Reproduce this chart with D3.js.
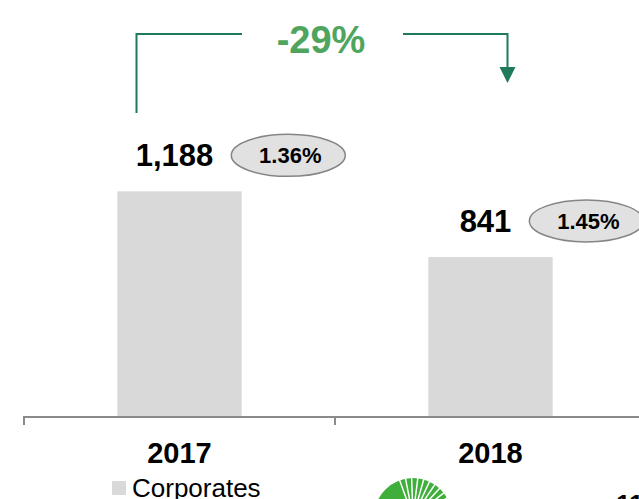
<!DOCTYPE html>
<html>
<head>
<meta charset="utf-8">
<script src="https://cdn.jsdelivr.net/npm/d3@7"></script>
<style>
	body { margin: 0; background: #fff; }
	svg { display: block; font-family: "Liberation Sans", Arial, sans-serif; }
</style>
</head>
<body>
<div id="chart"></div>
<script>
const years = ['2017', '2018'];
const values = [1188, 841];
const rates = ['1.36%', '1.45%'];
const changeLabel = '-29%';
const legendLabel = 'Corporates';

const width = 639;
const height = 499;
const baseY = 416;

const svg = d3.select('#chart')
	.append('svg')
	.attr('width', width)
	.attr('height', height);

const xScale = d3.scaleBand()
	.domain(years)
	.range([24, 646])
	.paddingInner(0.6)
	.paddingOuter(0.3);

const step = xScale.step();
const bandStart = (d) => xScale(d) - step * 0.3;
const center = (d) => xScale(d) + xScale.bandwidth() / 2;

const yScale = d3.scaleLinear()
	.domain([0, 2200])
	.range([baseY, 0]);

const fmt = d3.format(',');

// bars
svg.selectAll('.bar')
	.data(years)
	.join('rect')
	.attr('class', 'bar')
	.attr('x', (d) => xScale(d))
	.attr('y', (d, i) => yScale(values[i]))
	.attr('width', xScale.bandwidth())
	.attr('height', (d, i) => baseY - yScale(values[i]))
	.attr('fill', '#d9d9d9');

// axis line with ticks between categories
const axis = svg.append('g').attr('class', 'x-axis');
axis.append('line')
	.attr('x1', bandStart(years[0]))
	.attr('x2', width)
	.attr('y1', baseY + 1)
	.attr('y2', baseY + 1)
	.attr('stroke', '#8a8a8a')
	.attr('stroke-width', 2);
axis.selectAll('.tick')
	.data(years)
	.join('line')
	.attr('class', 'tick')
	.attr('x1', (d) => bandStart(d))
	.attr('x2', (d) => bandStart(d))
	.attr('y1', baseY)
	.attr('y2', baseY + 9)
	.attr('stroke', '#8a8a8a')
	.attr('stroke-width', 2);
axis.selectAll('.year')
	.data(years)
	.join('text')
	.attr('class', 'year')
	.attr('x', (d) => center(d))
	.attr('y', 463)
	.attr('text-anchor', 'middle')
	.style('font-size', '29px')
	.style('font-weight', 'bold')
	.text((d) => d);

// value labels + rate ellipses
years.forEach((d, i) => {
	const ly = yScale(values[i]) - 25;
	const label = svg.append('text')
		.attr('x', center(d) - 5)
		.attr('y', ly)
		.attr('text-anchor', 'middle')
		.style('font-size', '31px')
		.style('font-weight', 'bold')
		.text(fmt(values[i]));
	const box = label.node().getBBox();
	const rx = 57;
	const cx = box.x + box.width + 18 + rx;
	const cy = ly - 11;
	svg.append('ellipse')
		.attr('cx', cx)
		.attr('cy', cy)
		.attr('rx', rx)
		.attr('ry', 21)
		.attr('fill', '#e1e1e1')
		.attr('stroke', '#858585')
		.attr('stroke-width', 1.5);
	svg.append('text')
		.attr('x', cx + 2)
		.attr('y', cy + 8)
		.attr('text-anchor', 'middle')
		.style('font-size', '22px')
		.style('font-weight', 'bold')
		.text(rates[i]);
});

// change bracket
const bx1 = center(years[0]) - 43;
const bx2 = center(years[1]) + 17;
const by = 34;
const midX = 321;
svg.append('path')
	.attr('d', `M${bx1},113 V${by} H242`)
	.attr('fill', 'none')
	.attr('stroke', '#1f7a5a')
	.attr('stroke-width', 2);
svg.append('path')
	.attr('d', `M403,${by} H${bx2} V70`)
	.attr('fill', 'none')
	.attr('stroke', '#1f7a5a')
	.attr('stroke-width', 2);
svg.append('path')
	.attr('d', `M${bx2 - 8},67 L${bx2 + 8},67 L${bx2},83 Z`)
	.attr('fill', '#1f7a5a');
svg.append('text')
	.attr('x', midX)
	.attr('y', 53)
	.attr('text-anchor', 'middle')
	.style('font-size', '38px')
	.style('font-weight', 'bold')
	.style('fill', '#4fa55e')
	.text(changeLabel);

// legend
svg.append('rect')
	.attr('x', 112)
	.attr('y', 481)
	.attr('width', 14)
	.attr('height', 14)
	.attr('fill', '#d9d9d9');
svg.append('text')
	.attr('x', 132)
	.attr('y', 497)
	.style('font-size', '26px')
	.text(legendLabel);

// partial logo at the bottom edge
const logo = svg.append('g').attr('transform', 'translate(413, 517)');
logo.append('path')
	.attr('d', d3.arc()({innerRadius: 0, outerRadius: 39, startAngle: -Math.PI / 2, endAngle: Math.PI / 2}))
	.attr('fill', '#3fae3a');
d3.range(-20, 80, 9).forEach((a) => {
	const r = a * Math.PI / 180;
	logo.append('line')
		.attr('x1', 0)
		.attr('y1', 0)
		.attr('x2', 45 * Math.sin(r))
		.attr('y2', -45 * Math.cos(r))
		.attr('stroke', '#fff')
		.attr('stroke-width', 1.5);
});
svg.append('text')
	.attr('x', 616)
	.attr('y', 513)
	.style('font-size', '26px')
	.style('font-weight', 'bold')
	.text('11');
</script>
</body>
</html>
